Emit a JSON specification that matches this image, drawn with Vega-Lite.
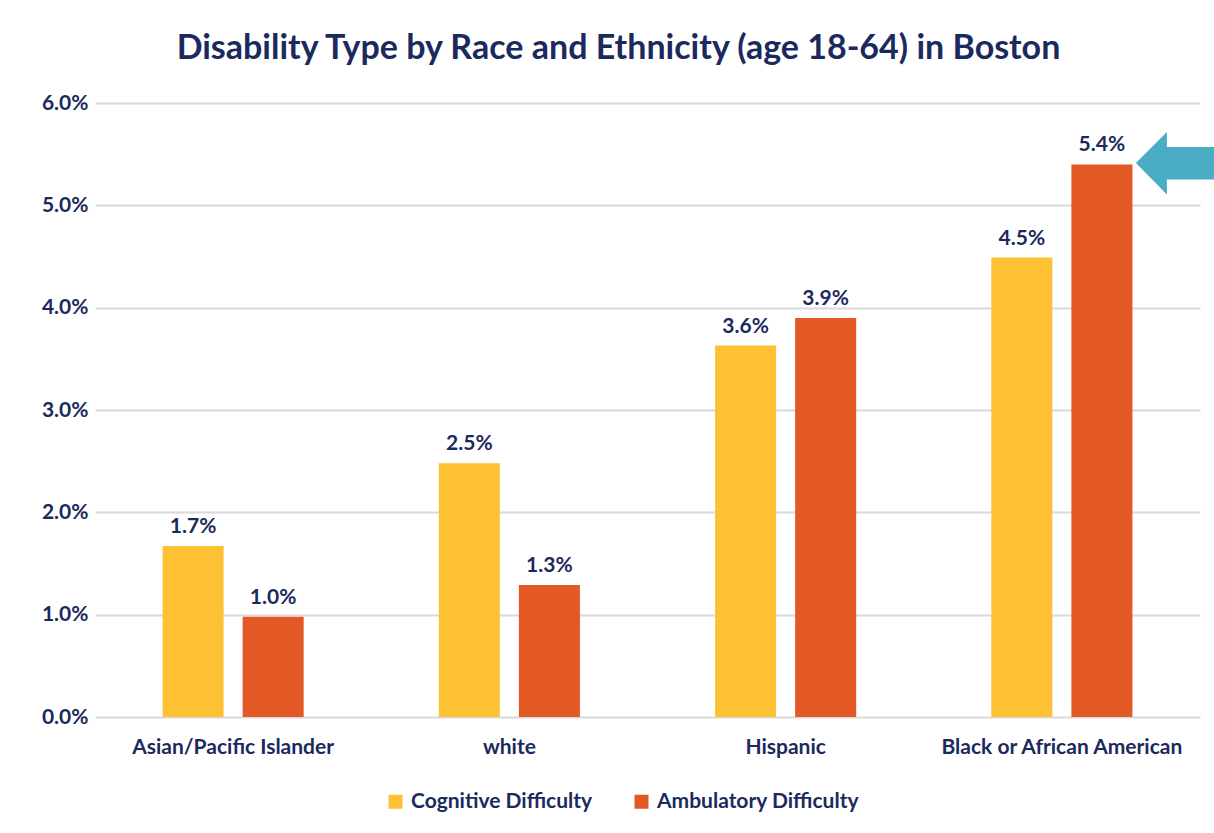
{
  "$schema": "https://vega.github.io/schema/vega-lite/v6.json",
  "width": 1105,
  "height": 614,
  "autosize": {"type": "none"},
  "padding": {"left": 95, "top": 103, "right": 14, "bottom": 116},
  "background": "white",
  "title": {
    "text": "Disability Type by Race and Ethnicity (age 18-64) in Boston",
    "font": "Lato",
    "fontSize": 34,
    "fontWeight": "bold",
    "color": "#1B2A5E",
    "anchor": "middle",
    "dx": -29,
    "offset": 26
  },
  "config": {
    "view": {"stroke": null},
    "font": "Lato"
  },
  "layer": [
    {
      "data": {
        "values": [
          {"group": "Asian/Pacific Islander", "type": "Cognitive Difficulty", "value": 0.0167},
          {"group": "Asian/Pacific Islander", "type": "Ambulatory Difficulty", "value": 0.0098},
          {"group": "white", "type": "Cognitive Difficulty", "value": 0.0248},
          {"group": "white", "type": "Ambulatory Difficulty", "value": 0.0129},
          {"group": "Hispanic", "type": "Cognitive Difficulty", "value": 0.0363},
          {"group": "Hispanic", "type": "Ambulatory Difficulty", "value": 0.039},
          {"group": "Black or African American", "type": "Cognitive Difficulty", "value": 0.0449},
          {"group": "Black or African American", "type": "Ambulatory Difficulty", "value": 0.054}
        ]
      },
      "encoding": {
        "x": {
          "field": "group",
          "type": "nominal",
          "sort": null,
          "scale": {"paddingInner": 0, "paddingOuter": 0},
          "axis": {
            "title": null,
            "labelAngle": 0,
            "domain": false,
            "ticks": false,
            "labelPadding": 19,
            "labelLimit": 0,
            "labelFont": "Lato",
            "labelFontSize": 21,
            "labelFontWeight": "bold",
            "labelColor": "#1B2A5E"
          }
        },
        "xOffset": {
          "field": "type",
          "type": "nominal",
          "sort": ["Cognitive Difficulty", "Ambulatory Difficulty"],
          "scale": {"paddingInner": 0.2375, "paddingOuter": 0.844}
        },
        "y": {
          "field": "value",
          "type": "quantitative",
          "scale": {"domain": [0, 0.06], "nice": false},
          "axis": {
            "title": null,
            "format": ".1%",
            "values": [0, 0.01, 0.02, 0.03, 0.04, 0.05, 0.06],
            "domain": false,
            "ticks": false,
            "labelPadding": 7,
            "labelFont": "Lato",
            "labelFontSize": 21,
            "labelFontWeight": "bold",
            "labelColor": "#1B2A5E",
            "gridColor": "#D9D9D9",
            "gridWidth": 2
          }
        }
      },
      "layer": [
        {
          "mark": {"type": "bar"},
          "encoding": {
            "color": {
              "field": "type",
              "type": "nominal",
              "scale": {
                "domain": ["Cognitive Difficulty", "Ambulatory Difficulty"],
                "range": ["#FDC133", "#E35926"]
              },
              "legend": {
                "title": null,
                "orient": "none",
                "direction": "horizontal",
                "legendX": 290,
                "legendY": 688,
                "symbolType": "square",
                "symbolSize": 196,
                "symbolStrokeWidth": 0,
                "labelFont": "Lato",
                "labelFontSize": 21,
                "labelFontWeight": "bold",
                "labelColor": "#1B2A5E",
                "labelLimit": 0,
                "labelOffset": 5,
                "columnPadding": 38
              }
            }
          }
        },
        {
          "mark": {
            "type": "text",
            "baseline": "bottom",
            "dy": -9,
            "font": "Lato",
            "fontSize": 21,
            "fontWeight": "bold",
            "color": "#1B2A5E"
          },
          "encoding": {
            "text": {"field": "value", "type": "quantitative", "format": ".1%"}
          }
        }
      ]
    },
    {
      "data": {
        "values": [
          {"group": "Black or African American", "type": "Ambulatory Difficulty", "value": 0.054}
        ]
      },
      "mark": {
        "type": "point",
        "filled": true,
        "opacity": 1,
        "size": 10000,
        "color": "#4BACC6",
        "shape": "M0.68,-0.03 L1.3,-0.65 L1.3,-0.35 L2.7,-0.35 L2.7,0.3 L1.3,0.3 L1.3,0.6 Z"
      },
      "encoding": {
        "x": {"field": "group", "type": "nominal", "sort": null},
        "xOffset": {"field": "type", "type": "nominal", "sort": ["Cognitive Difficulty", "Ambulatory Difficulty"]},
        "y": {"field": "value", "type": "quantitative"}
      }
    }
  ]
}
